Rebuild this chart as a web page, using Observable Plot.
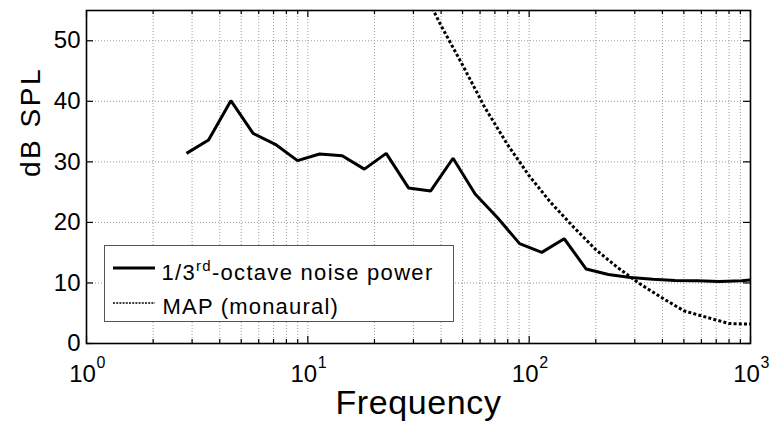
<!DOCTYPE html>
<html>
<head>
<meta charset="utf-8">
<script src="https://cdn.jsdelivr.net/npm/d3@7"></script>
<script src="https://cdn.jsdelivr.net/npm/@observablehq/plot@0.6"></script>
<style>
  body { margin: 0; background: #fff; }
  #wrap { position: relative; width: 773px; height: 429px; font-family: "Liberation Sans", Arial, Helvetica, sans-serif; }
  #legend { position: absolute; left: 104px; top: 245px; }
</style>
</head>
<body>
<div id="wrap"><div id="legend"></div></div>
<script>
// ---- data ----
const noiseFreq = [2.83, 3.56, 4.49, 5.66, 7.13, 8.98, 11.3, 14.3, 18.0, 22.6, 28.5, 35.9, 45.3, 57.0, 71.8, 90.5, 114, 144, 181, 228, 287, 362, 456, 575, 724, 912, 1000];
const noiseDb   = [31.4, 33.6, 40.1, 34.7, 32.9, 30.2, 31.3, 31.0, 28.8, 31.4, 25.7, 25.2, 30.6, 24.7, 20.8, 16.5, 15.05, 17.3, 12.3, 11.4, 10.9, 10.6, 10.4, 10.35, 10.25, 10.35, 10.5];
const mapFreq = [31.5, 40, 50, 63, 80, 100, 125, 160, 200, 250, 315, 400, 500, 630, 800, 1000];
const mapDb   = [60, 52.5, 46, 39.0, 32.8, 27.7, 23.3, 19.1, 15.5, 12.6, 9.9, 7.5, 5.4, 4.35, 3.3, 3.2];
const xMajorTicks = [1, 10, 100, 1000];
const xTickBase = ["10", "10", "10", "10"];
const xTickExp = ["0", "1", "2", "3"];
const xMinorTicks = [2, 3, 4, 5, 6, 7, 8, 9, 20, 30, 40, 50, 60, 70, 80, 90, 200, 300, 400, 500, 600, 700, 800, 900];
const yTicks = [0, 10, 20, 30, 40, 50];
const seriesNames = ["1/3", "rd", "-octave noise power", "MAP (monaural)"];
const xLabel = "Frequency";
const yLabel = "dB SPL";

const noise = noiseFreq.map((f, i) => ({f, db: noiseDb[i]}));
const map = mapFreq.map((f, i) => ({f, db: mapDb[i]}));
const xTickLabels = xMajorTicks.map((v, i) => ({v, base: xTickBase[i], exp: xTickExp[i]}));

const W = 773, H = 429, mL = 86, mR = 23, mT = 10, mB = 86;
const plotW = W - mL - mR, plotH = H - mT - mB;
const font = '"Liberation Sans", Arial, Helvetica, sans-serif';
const grid = {stroke: "#9a9a9a", strokeDasharray: "1,2", strokeWidth: 1};

const svg = Plot.plot({
  width: W, height: H,
  marginLeft: mL, marginRight: mR, marginTop: mT, marginBottom: mB,
  x: {type: "log", domain: [1, 1000], axis: null},
  y: {domain: [0, 55], axis: null},
  style: {fontFamily: font, background: "white", color: "black", overflow: "visible"},
  marks: [
    Plot.ruleX(xMinorTicks.concat(xMajorTicks.slice(1, 3)), {x: d => d, ...grid}),
    Plot.ruleY(yTicks.slice(1), {y: d => d, ...grid}),
    Plot.line(map, {x: "f", y: "db", stroke: "black", strokeWidth: 3, strokeDasharray: "3,2.2", strokeLinecap: "butt", strokeLinejoin: "miter", clip: true}),
    Plot.line(noise, {x: "f", y: "db", stroke: "black", strokeWidth: 3, clip: true, strokeLinejoin: "miter", strokeLinecap: "butt"}),
    // inward ticks
    Plot.ruleX(xMajorTicks, {x: d => d, insetTop: plotH - 7, stroke: "black", strokeWidth: 1.2}),
    Plot.ruleX(xMajorTicks, {x: d => d, insetBottom: plotH - 7, stroke: "black", strokeWidth: 1.2}),
    Plot.ruleX(xMinorTicks, {x: d => d, insetTop: plotH - 4, stroke: "black", strokeWidth: 1.2}),
    Plot.ruleX(xMinorTicks, {x: d => d, insetBottom: plotH - 4, stroke: "black", strokeWidth: 1.2}),
    Plot.ruleY(yTicks, {y: d => d, insetRight: plotW - 7, stroke: "black", strokeWidth: 1.2}),
    Plot.ruleY(yTicks, {y: d => d, insetLeft: plotW - 7, stroke: "black", strokeWidth: 1.2}),
    Plot.frame({stroke: "black", strokeWidth: 1.6}),
    // tick labels
    Plot.text(yTicks, {y: d => d, frameAnchor: "left", dx: -6, textAnchor: "end", fontSize: 24, text: d => String(d)}),
    Plot.text(xTickLabels, {x: "v", frameAnchor: "bottom", text: "base", dx: -4, dy: 38, lineAnchor: "bottom", textAnchor: "middle", fontSize: 24}),
    Plot.text(xTickLabels, {x: "v", frameAnchor: "bottom", text: "exp", dx: 10, dy: 24, lineAnchor: "bottom", textAnchor: "start", fontSize: 16}),
    // axis titles
    Plot.text([xLabel], {frameAnchor: "bottom", dy: 70, lineAnchor: "bottom", fontSize: 34}),
    Plot.text([yLabel], {frameAnchor: "left", dx: -55, rotate: -90, fontSize: 28})
  ]
});

d3.select(svg).selectAll("text").filter(function() { return this.textContent === yLabel; }).style("letter-spacing", "2.5px");
d3.select(svg).selectAll("text").filter(function() { return this.textContent === xLabel; }).style("letter-spacing", "0.6px");

const wrap = document.getElementById("wrap");
wrap.insertBefore(svg, wrap.firstChild);

// legend (inside the axes, like the original)
const lg = d3.select("#legend").append("svg").attr("width", 351).attr("height", 78)
  .style("font-family", font).style("display", "block");
lg.append("rect").attr("x", 0.5).attr("y", 0.5).attr("width", 349).attr("height", 76)
  .attr("fill", "white").attr("stroke", "#555").attr("stroke-width", 1);
lg.append("line").attr("x1", 9).attr("x2", 51).attr("y1", 23).attr("y2", 23)
  .attr("stroke", "black").attr("stroke-width", 3);
lg.append("line").attr("x1", 9).attr("x2", 51).attr("y1", 58).attr("y2", 58)
  .attr("stroke", "black").attr("stroke-width", 1.6).attr("stroke-dasharray", "2,1.2");
const t1 = lg.append("text").attr("x", 57.5).attr("y", 34.5).attr("font-size", 22).style("letter-spacing", "1.3px");
t1.append("tspan").text(seriesNames[0]);
t1.append("tspan").attr("font-size", 15).attr("dy", -9).text(seriesNames[1]);
t1.append("tspan").attr("dy", 9).text(seriesNames[2]);
lg.append("text").attr("x", 58.5).attr("y", 69).attr("font-size", 22).style("letter-spacing", "1.2px").text(seriesNames[3]);
</script>
</body>
</html>
